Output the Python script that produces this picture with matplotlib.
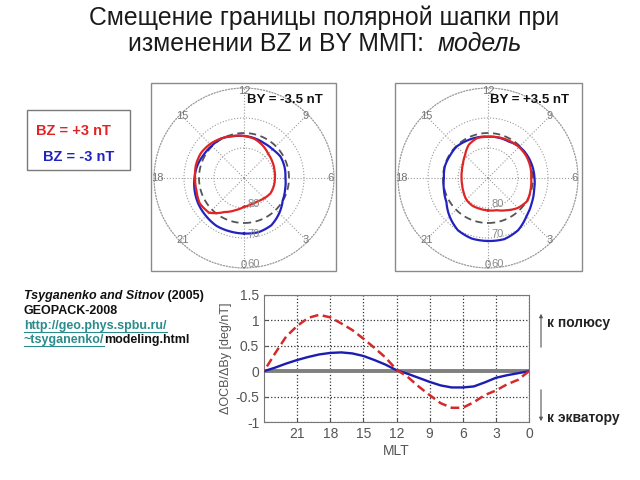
import numpy as np
import matplotlib

matplotlib.use("Agg")
import matplotlib.pyplot as plt
from matplotlib.patches import Rectangle, FancyArrowPatch
from matplotlib.lines import Line2D

plt.rcParams["font.family"] = ["Liberation Sans", "DejaVu Sans"]

# ---- данные ----
mlt_h = list(range(24))  # часы MLT для полярных кривых

# широта границы шапки, BY = -3.5 nT
lat_left_red = [80.4, 80.9, 81.0, 80.5, 79.8, 79.7, 79.7, 79.5, 79.1, 78.6, 77.5, 76.5,
                76.0, 75.5, 74.8, 74.0, 73.4, 73.4, 73.7, 73.6, 73.0, 73.6, 76.9, 78.9]
lat_left_blue = [71.5, 71.3, 71.8, 73.4, 75.1, 75.8, 76.2, 76.0, 75.9, 76.5, 76.6, 76.3,
                 76.0, 75.6, 74.8, 74.8, 74.5, 73.9, 73.5, 73.0, 72.5, 72.1, 71.6, 71.6]
# широта границы шапки, BY = +3.5 nT
lat_right_red = [79.2, 78.9, 77.6, 75.9, 74.8, 75.3, 75.6, 75.4, 75.3, 75.4, 75.7, 76.0,
                 76.3, 76.2, 77.2, 79.2, 80.4, 81.0, 81.2, 81.1, 80.6, 79.8, 79.4, 79.4]
lat_right_blue = [69.0, 68.9, 69.9, 71.9, 73.2, 74.1, 74.5, 74.7, 74.9, 75.2, 76.0, 76.1,
                  76.2, 76.0, 75.7, 75.2, 75.3, 75.1, 75.3, 74.8, 74.0, 71.9, 69.9, 69.1]
ref_lat = 75  # пунктирная окружность

# ΔOCB/ΔBy по MLT (0..24)
mlt_line = list(range(25))
docb_blue = [0, -0.04, -0.08, -0.13, -0.22, -0.30, -0.32, -0.32, -0.28, -0.21, -0.13, -0.05,
             0.02, 0.13, 0.22, 0.30, 0.35, 0.37, 0.36, 0.33, 0.28, 0.22, 0.15, 0.07, 0]
docb_red = [0, -0.17, -0.26, -0.38, -0.47, -0.61, -0.72, -0.72, -0.63, -0.47, -0.30, -0.11,
            0.03, 0.27, 0.46, 0.64, 0.81, 0.94, 1.06, 1.11, 1.05, 0.89, 0.68, 0.35, 0]

hour_labels = [0, 3, 6, 9, 12, 15, 18, 21]
lat_labels = [80, 70, 60]

RED = "#e02424"
BLUE = "#2222c0"

fig = plt.figure(figsize=(6.4, 4.8), dpi=100)
renderer = fig.canvas.get_renderer()
W, H = 640.0, 480.0


def px(x, y):
    return x / W, 1 - y / H


def text_row(x, y, pieces, **common):
    """кусочки текста подряд в одной строке; x,y - в пикселях"""
    fx, fy = px(x, y)
    arts = []
    for s, kw in pieces:
        t = fig.text(fx, fy, s, **common, **kw)
        bb = t.get_window_extent(renderer)
        fx = bb.x1 / W
        arts.append((t, bb))
    return arts


# ---- заголовок ----
fig.text(*px(324, 18), "Смещение границы полярной шапки при", ha="center", va="center",
         fontsize=17.8, color="#1a1a1a")
text_row(128, 51, [("изменении BZ и BY ММП:  ", {}), ("модель", {"style": "italic"})],
         fontsize=17.8, color="#1a1a1a", va="baseline")


# ---- полярные панели ----
def polar_panel(cx, lat_red, lat_blue, by_text, frame):
    fx, fy = px(cx - 90, 178 + 90)
    ax = fig.add_axes([fx, fy, 180 / W, 180 / H], projection="polar")
    ax.set_theta_zero_location("S")
    ax.set_theta_direction(1)
    ax.set_ylim(0, 30)
    ax.set_xticks(np.radians(np.arange(0, 360, 45)))
    ax.set_xticklabels([])
    ax.set_yticks([10, 20, 30])
    ax.set_yticklabels([])
    ax.grid(color="#9a9a9a", ls=":", lw=0.8)
    ax.spines["polar"].set(color="#9a9a9a", ls=":", lw=0.8)
    ax.set_facecolor("none")

    # замыкаем кривую в 24 MLT (= 360°), чтобы дуга не шла в обратную сторону
    th = np.radians(np.array(mlt_h + [24]) * 15)
    tt = np.linspace(0, 2 * np.pi, 200)
    ax.plot(tt, np.full_like(tt, 90 - ref_lat), color="#555555", ls="--", lw=1.3, dashes=(4, 2.5))
    for lat, col in [(lat_blue, BLUE), (lat_red, RED)]:
        ln, = ax.plot(th, 90 - np.array(lat + [lat[0]]), color=col, lw=1.6)
        ln.get_path()._interpolation_steps = 8  # рисовать дугами, а не хордами

    for h in hour_labels:
        ax.text(np.radians(h * 15), 29.0, str(h), ha="center", va="center", fontsize=8,
                color="#777777", clip_on=False)
    for lat in lat_labels:
        ax.annotate(str(lat), xy=(0, 90 - lat), xytext=(3, 4), textcoords="offset pixels",
                    ha="left", va="center", fontsize=8, color="#8a8a8a")

    x0, y0, x1, y1 = frame
    fig.add_artist(Rectangle(px(x0, y1), (x1 - x0) / W, (y1 - y0) / H,
                             transform=fig.transFigure, fill=False, ec="#8a8a8a", lw=1))
    fig.text(*px(cx + 41, 100), by_text, ha="center", va="center", fontsize=9.5,
             fontweight="bold", color="#111111")


polar_panel(244, lat_left_red, lat_left_blue, "BY = -3.5 nT", (151, 83, 336, 271))
polar_panel(488, lat_right_red, lat_right_blue, "BY = +3.5 nT", (395, 83, 582, 271))

# ---- легенда BZ ----
fig.add_artist(Rectangle(px(27, 170), 103 / W, 60 / H, transform=fig.transFigure,
                         fill=False, ec="#7a7a7a", lw=1))
fig.text(*px(73, 131), "BZ = +3 nT", ha="center", va="center", fontsize=10.5,
         fontweight="bold", color=RED)
fig.text(*px(79, 157), "BZ = -3 nT", ha="center", va="center", fontsize=10.5,
         fontweight="bold", color=BLUE)

# ---- нижний график ----
ax = fig.add_axes([264 / W, 1 - 422 / H, 265 / W, 127 / H])
ax.axhline(0, color="#808080", lw=2.8, zorder=2)
ax.plot(mlt_line, docb_blue, color="#1c1cb0", lw=1.7, zorder=3)
ax.plot(mlt_line, docb_red, color="#d42a2a", lw=1.8, ls="--", dashes=(3.5, 1.8), zorder=4)
ax.set_xlim(24, 0)
ax.set_ylim(-1, 1.5)
ax.set_xticks([21, 18, 15, 12, 9, 6, 3, 0])
ax.set_yticks([-1, -0.5, 0, 0.5, 1, 1.5], ["-1", "-0.5", "0", "0.5", "1", "1.5"])
ax.grid(color="#333333", ls=":", lw=0.9)
ax.tick_params(direction="in", labelsize=10, labelcolor="#555555", color="#555555", length=3)
for sp in ax.spines.values():
    sp.set_color("#777777")
ax.set_xlabel("MLT", fontsize=10, color="#555555", labelpad=2)
ax.set_ylabel("ΔOCB/ΔBy [deg/nT]", fontsize=9, color="#555555", labelpad=2)

# ---- стрелки направления ----
for ys, ye in [(350, 311), (387, 424)]:
    fig.add_artist(FancyArrowPatch(px(541, ys), px(541, ye), transform=fig.transFigure,
                                   arrowstyle="-|>", mutation_scale=5, color="#555555", lw=0.8))
fig.text(*px(547, 323), "к полюсу", ha="left", va="center", fontsize=10, fontweight="bold",
         color="#222222")
fig.text(*px(547, 418), "к экватору", ha="left", va="center", fontsize=10, fontweight="bold",
         color="#222222")

# ---- ссылка на модель ----
LINK = "#2a8c8c"
ref_kw = dict(fontsize=9, fontweight="bold", va="baseline")
text_row(24, 299, [("Tsyganenko and Sitnov", {"style": "italic"}), (" (2005)", {})],
         color="#111111", **ref_kw)
text_row(24, 314, [("GEOPACK-2008", {})], color="#111111", **ref_kw)
links = text_row(24, 329, [("http://geo.phys.spbu.ru/", {"color": LINK})], **ref_kw)
links += text_row(24, 343, [("~tsyganenko/", {"color": LINK}),
                            ("modeling.html", {"color": "#111111"})], **ref_kw)[:1]
for t, bb in links:
    yy = (bb.y0 + 0.5) / H
    fig.add_artist(Line2D([bb.x0 / W, bb.x1 / W], [yy, yy], transform=fig.transFigure,
                          color=LINK, lw=0.8))

fig.savefig("out.png", dpi=100)
